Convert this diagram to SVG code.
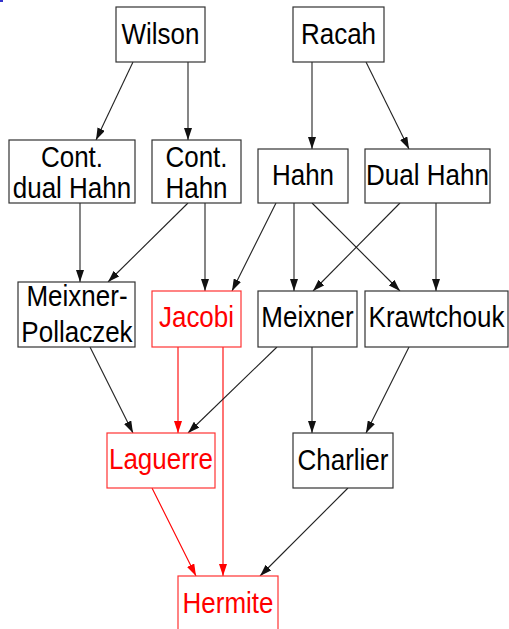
<svg xmlns="http://www.w3.org/2000/svg" width="509" height="629" viewBox="0 0 509 629">
<style>
.n rect{fill:#fff;stroke:#333;stroke-width:1.2}
.r rect{stroke:#f33}
text{font-family:"Liberation Sans",Arial,sans-serif;font-size:26px;text-anchor:middle;fill:#000;transform:scale(1,1.12)}
.r text{fill:#f00}
.e line{stroke:#222;stroke-width:1.1;marker-end:url(#a)}
.e line.red{stroke:#f00;marker-end:url(#ar)}
</style>
<defs>
<marker id="a" markerUnits="userSpaceOnUse" markerWidth="12" markerHeight="8" refX="12" refY="4" orient="auto"><path d="M0,0 L12,4 L0,8 z" fill="#111"/></marker>
<marker id="ar" markerUnits="userSpaceOnUse" markerWidth="12" markerHeight="8" refX="12" refY="4" orient="auto"><path d="M0,0 L12,4 L0,8 z" fill="#f00"/></marker>
</defs>
<rect x="0" y="0" width="3" height="2" fill="#33c"/>
<g class="e" id="edges">
<line x1="133" y1="62" x2="96" y2="140"/>
<line x1="188" y1="62" x2="188" y2="140"/>
<line x1="312" y1="62" x2="312" y2="149"/>
<line x1="366" y1="62" x2="409" y2="149"/>
<line x1="80" y1="203" x2="80" y2="282"/>
<line x1="188" y1="203" x2="108" y2="282"/>
<line x1="205" y1="203" x2="205" y2="291"/>
<line x1="276" y1="203" x2="232" y2="291"/>
<line x1="294" y1="203" x2="294" y2="291"/>
<line x1="312" y1="203" x2="400" y2="291"/>
<line x1="400" y1="203" x2="313" y2="291"/>
<line x1="436" y1="203" x2="436" y2="291"/>
<line x1="90" y1="347" x2="133" y2="433"/>
<line class="red" x1="178" y1="347" x2="178" y2="433"/>
<line class="red" x1="223" y1="347" x2="223" y2="576"/>
<line x1="277" y1="347" x2="188" y2="433"/>
<line x1="312" y1="347" x2="312" y2="433"/>
<line x1="409" y1="347" x2="366" y2="433"/>
<line class="red" x1="152" y1="488" x2="196" y2="576"/>
<line x1="348" y1="488" x2="260" y2="576"/>
</g>
<g class="n" id="wilson"><rect x="116" y="7" width="89" height="55"/><text x="160.5" y="39.3">Wilson</text></g>
<g class="n" id="racah"><rect x="293" y="7" width="91" height="55"/><text x="338.5" y="39.3">Racah</text></g>
<g class="n" id="contdualhahn"><rect x="9" y="140" width="126" height="63"/><text x="72" y="149.1">Cont.</text><text x="72" y="176.8">dual Hahn</text></g>
<g class="n" id="conthahn"><rect x="152" y="140" width="89" height="63"/><text x="196.5" y="149.1">Cont.</text><text x="196.5" y="176.8">Hahn</text></g>
<g class="n" id="hahn"><rect x="258" y="149" width="90" height="54"/><text x="303" y="165.2">Hahn</text></g>
<g class="n" id="dualhahn"><rect x="365" y="149" width="125" height="54"/><text x="427.5" y="165.2">Dual Hahn</text></g>
<g class="n" id="meixnerpollaczek"><rect x="18" y="282" width="117" height="65"/><text x="77" y="273.2">Meixner-</text><text x="77" y="305.4">Pollaczek</text></g>
<g class="n r" id="jacobi"><rect x="152" y="291" width="89" height="56"/><text x="196.5" y="292">Jacobi</text></g>
<g class="n" id="meixner"><rect x="258" y="291" width="99" height="56"/><text x="307.5" y="292">Meixner</text></g>
<g class="n" id="krawtchouk"><rect x="365" y="291" width="143" height="56"/><text x="436.5" y="292">Krawtchouk</text></g>
<g class="n r" id="laguerre"><rect x="107" y="433" width="108" height="55"/><text x="161" y="418.8">Laguerre</text></g>
<g class="n" id="charlier"><rect x="293" y="433" width="100" height="55"/><text x="343" y="419.6">Charlier</text></g>
<g class="n r" id="hermite"><rect x="178" y="576" width="100" height="56"/><text x="228" y="547.3">Hermite</text></g>
</svg>
